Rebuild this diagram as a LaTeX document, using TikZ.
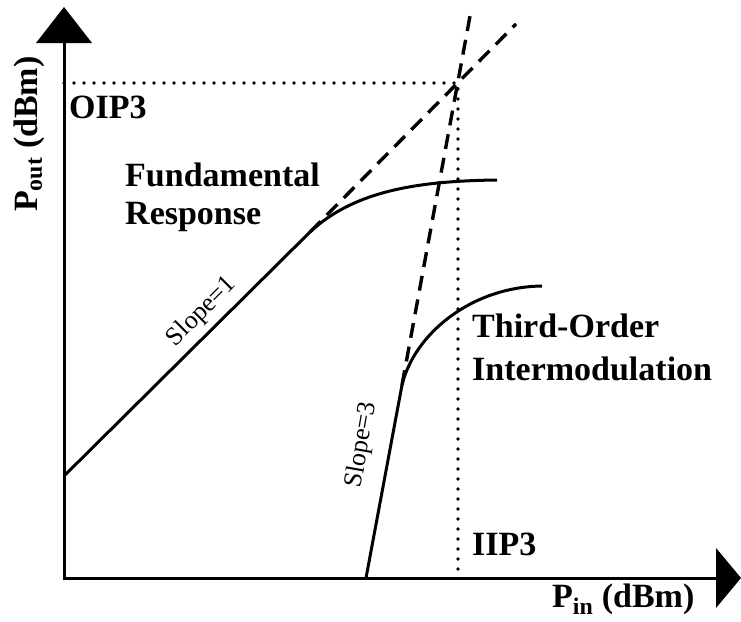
\documentclass[tikz,border=0pt]{standalone}
\usepackage{fontspec}
\setmainfont{Liberation Serif}
\begin{document}
\begin{tikzpicture}[x=1pt,y=-1pt,
  axis/.style={line width=3pt},
  tip/.style={fill=black},
  curve/.style={line width=3pt},
  ext/.style={line width=3.4pt, dash pattern=on 15pt off 9pt},
  guide/.style={line width=3.8pt, dash pattern=on 0pt off 10pt, line cap=round},
  lab/.style={font=\fontsize{34}{38}\selectfont\bfseries, inner sep=0pt},
  slopelab/.style={font=\fontsize{26}{30}\selectfont, inner sep=0pt}]
\useasboundingbox (0,0) rectangle (741,621);
% key points
\coordinate (O) at (64,578);
\coordinate (ybase) at (64,42);
\coordinate (xbase) at (716,578);
\coordinate (F0) at (64,476);
\coordinate (F1) at (310,232);
\coordinate (F2) at (497,180);
\coordinate (T0) at (366,578);
\coordinate (T1) at (402,385);
\coordinate (T2) at (542,286);
\coordinate (P) at (458,83);
\coordinate (Fe) at (516,24);
\coordinate (Te) at (470,16);
\coordinate (Oy) at (64,83);
\coordinate (Ix) at (458,578);
% axes
\draw[axis] (ybase) -- (O) -- (xbase);
\fill[tip] (64,7) -- (92,43) -- (36,43) -- cycle;
\fill[tip] (741,578) -- (716,548) -- (716,608) -- cycle;
% guides
\draw[guide] (Oy) -- (P) -- (Ix);
% fundamental
\draw[curve] (F0) -- (F1) .. controls (355,190) and (420,181) .. (F2);
\draw[ext] (F1) -- (Fe);
% third order
\draw[curve] (T0) -- (T1) .. controls (414,335) and (470,287) .. (T2);
\draw[ext] (T1) -- (Te);
% labels
\node[lab, anchor=base west] (oip) at (69,118) {OIP3};
\node[lab, anchor=base west] (fund) at (125,186) {Fundamental};
\node[lab, anchor=base west] (resp) at (125,224) {Response};
\node[lab, anchor=base west] (third) at (472,337) {Third-Order};
\node[lab, anchor=base west] (imod) at (472,380) {Intermodulation};
\node[lab, anchor=base west] (iip) at (472,555) {IIP3};
\node[lab, anchor=base west] (pin) at (552,607) {P\textsubscript{in} (dBm)};
\node[lab, anchor=base west, rotate=90] (pout) at (37,212) {P\textsubscript{out} (dBm)};
\node[slopelab, rotate=45] (s1) at (202,312) {Slope=1};
\node[slopelab, rotate=80] (s3) at (362,445) {Slope=3};
\end{tikzpicture}
\end{document}
